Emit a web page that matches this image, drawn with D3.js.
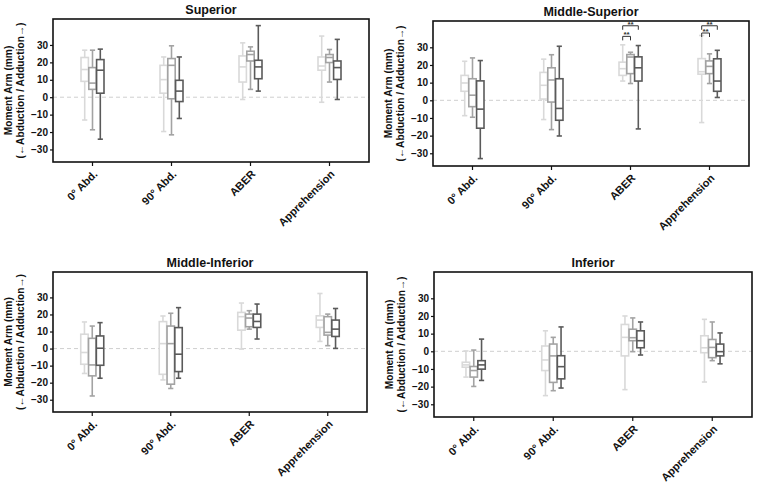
<!DOCTYPE html>
<html>
<head>
<meta charset="utf-8">
<script src="https://cdn.jsdelivr.net/npm/d3@7"></script>
<style>
  body { margin: 0; background: #fff; }
  svg { display: block; font-family: Arial, "Liberation Sans", sans-serif; }
</style>
</head>
<body>
<svg id="chart" width="762" height="485"></svg>
<script>
const categories = ['0° Abd.', '90° Abd.', 'ABER', 'Apprehension'];
const panelTitles = ['Superior', 'Middle-Superior', 'Middle-Inferior', 'Inferior'];
const yTicks = [-30, -20, -10, 0, 10, 20, 30];

// each box: [min, q1, median, q3, max], three series per category
const superior = [
  [[-13.1, 9.1, 15.9, 22.8, 27.0], [-18.7, 4.5, 8.1, 17.0, 27.0], [-24.1, 2.3, 15.5, 21.6, 27.6]],
  [[-19.7, 2.3, 10.1, 18.3, 23.1], [-21.6, -0.9, 18.3, 22.2, 29.5], [-12.2, -2.5, 3.5, 9.7, 23.1]],
  [[-1.3, 8.7, 17.4, 23.7, 31.2], [4.5, 20.8, 24.5, 26.4, 28.9], [3.5, 10.6, 17.4, 21.2, 41.1]],
  [[-2.9, 15.5, 17.9, 23.1, 35.1], [8.7, 19.9, 22.8, 24.5, 27.4], [-1.3, 10.2, 17.0, 20.8, 33.2]],
];
const middleSuperior = [
  [[-8.7, 5.1, 9.8, 14.1, 22.1], [-9.6, -3.6, 2.9, 12.2, 24.0], [-33.0, -15.8, -5.0, 11.0, 22.5]],
  [[-10.9, 0.7, 8.5, 15.8, 23.3], [-16.6, -1.0, 11.5, 18.4, 25.8], [-20.2, -11.3, -4.6, 12.2, 30.6]],
  [[10.9, 14.1, 17.9, 21.6, 31.4], [9.5, 15.1, 24.5, 25.9, 27.2], [-16.2, 10.9, 18.4, 24.6, 31.0]],
  [[-12.6, 14.8, 16.2, 23.6, 36.7], [9.5, 15.1, 19.2, 22.3, 26.3], [1.6, 5.1, 10.9, 23.5, 28.3]],
];
const middleInferior = [
  [[-14.6, -9.2, -2.3, 8.4, 15.6], [-27.8, -16.0, -9.6, 6.0, 13.2], [-17.4, -9.8, 0.2, 7.4, 15.2]],
  [[-18.4, -15.1, 2.9, 15.8, 19.1], [-23.4, -20.9, 2.9, 13.2, 20.7], [-17.4, -13.5, -3.3, 12.3, 24.0]],
  [[-0.3, 10.8, 18.7, 21.2, 26.7], [11.4, 12.8, 17.9, 20.2, 22.2], [5.6, 12.4, 15.9, 20.2, 26.1]],
  [[4.2, 12.4, 16.7, 19.2, 32.3], [1.7, 7.9, 9.5, 18.7, 20.2], [0.1, 7.1, 11.4, 16.7, 23.5]],
];
const inferior = [
  [[-14.6, -9.0, -7.7, -6.2, 0.2], [-19.9, -14.6, -10.9, -8.6, 0.7], [-16.5, -10.1, -7.7, -5.3, 6.9]],
  [[-25.1, -10.9, -4.9, 3.0, 11.6], [-22.3, -17.6, -2.6, 4.1, 7.9], [-20.8, -15.6, -8.7, -2.5, 13.8]],
  [[-21.7, -2.6, 7.9, 15.2, 20.0], [-0.2, 6.0, 7.7, 12.5, 18.9], [-2.1, 2.0, 6.0, 11.6, 16.6]],
  [[-17.4, -0.8, 2.0, 8.8, 18.1], [-5.3, -3.6, 2.2, 6.7, 16.6], [-7.1, -2.6, -0.2, 4.1, 10.4]],
];
// significance brackets (Middle-Superior): category, series from, series to, height
const brackets = [
  ['ABER', 0, 1, 36.2],
  ['ABER', 0, 2, 42.2],
  ['Apprehension', 0, 1, 38.1],
  ['Apprehension', 0, 2, 42.2],
];

const panelData = [superior, middleSuperior, middleInferior, inferior];
const colors = ['#d9d9d9', '#a3a3a3', '#5a5a5a'];

// frame rectangles for each panel
const frames = [
  { x0: 53, x1: 369, y0: 19, y1: 162 },
  { x0: 433, x1: 749, y0: 21, y1: 166 },
  { x0: 53, x1: 367, y0: 272, y1: 412 },
  { x0: 434, x1: 752, y0: 272, y1: 417 },
];

const svg = d3.select('#chart');

panelData.forEach((data, p) => {
  const f = frames[p];
  const g = svg.append('g');

  const x = d3.scaleBand().domain(categories).range([f.x0, f.x1]);
  const y = d3.scaleLinear().domain([-37.2, 44.9]).range([f.y1, f.y0]);
  const off = 7.8;
  const bw = 7.4;

  // zero line
  g.append('line')
    .attr('x1', f.x0).attr('x2', f.x1)
    .attr('y1', y(0)).attr('y2', y(0))
    .attr('stroke', '#cfcfcf')
    .attr('stroke-width', 1)
    .attr('stroke-dasharray', '4,3');

  data.forEach((group, c) => {
    const cx = x(categories[c]) + x.bandwidth() / 2;
    group.forEach((s, i) => {
      const [mn, q1, md, q3, mx] = s;
      const bx = cx + (i - 1) * off;
      const col = colors[i];
      const b = g.append('g')
        .attr('stroke', col)
        .attr('stroke-width', 1.6)
        .attr('fill', 'none');
      b.append('line').attr('x1', bx).attr('x2', bx).attr('y1', y(mx)).attr('y2', y(q3));
      b.append('line').attr('x1', bx).attr('x2', bx).attr('y1', y(q1)).attr('y2', y(mn));
      b.append('line').attr('x1', bx - 2.6).attr('x2', bx + 2.6).attr('y1', y(mx)).attr('y2', y(mx));
      b.append('line').attr('x1', bx - 2.6).attr('x2', bx + 2.6).attr('y1', y(mn)).attr('y2', y(mn));
      b.append('rect')
        .attr('x', bx - bw / 2).attr('width', bw)
        .attr('y', y(q3)).attr('height', y(q1) - y(q3))
        .attr('fill', '#fff');
      b.append('line').attr('x1', bx - bw / 2).attr('x2', bx + bw / 2).attr('y1', y(md)).attr('y2', y(md));
    });
  });

  if (p === 1) {
    brackets.forEach(([cat, a, b2, h]) => {
      const cx = x(cat) + x.bandwidth() / 2;
      const xa = cx + (a - 1) * off;
      const xb = cx + (b2 - 1) * off;
      const yy = y(h);
      g.append('path')
        .attr('d', `M${xa},${yy + 4}V${yy}H${xb}V${yy + 4}`)
        .attr('fill', 'none')
        .attr('stroke', '#333')
        .attr('stroke-width', 1);
      g.append('text')
        .attr('x', (xa + xb) / 2).attr('y', yy + 1)
        .attr('text-anchor', 'middle')
        .attr('font-size', 8)
        .attr('font-weight', 'bold')
        .attr('fill', '#333')
        .text('**');
    });
  }

  // frame
  g.append('rect')
    .attr('x', f.x0).attr('y', f.y0)
    .attr('width', f.x1 - f.x0).attr('height', f.y1 - f.y0)
    .attr('fill', 'none')
    .attr('stroke', '#111')
    .attr('stroke-width', 1.6);

  // y axis
  const ya = g.append('g')
    .attr('transform', `translate(${f.x0},0)`)
    .call(d3.axisLeft(y).tickValues(yTicks).tickSize(3).tickPadding(2).tickFormat((d) => d3.format('')(d).replace('-', '−')));
  ya.select('.domain').remove();
  ya.selectAll('line').attr('stroke', '#111').attr('stroke-width', 1.2);
  ya.selectAll('text')
    .attr('font-size', 10).attr('font-weight', 'bold').attr('fill', '#111')
    .attr('font-family', 'Arial, "Liberation Sans", sans-serif');

  // x axis
  const xa = g.append('g')
    .attr('transform', `translate(0,${f.y1})`)
    .call(d3.axisBottom(x).tickSize(4).tickFormat(''));
  xa.select('.domain').remove();
  xa.selectAll('line').attr('stroke', '#111').attr('stroke-width', 1.2);

  g.selectAll('.xlab')
    .data(categories)
    .join('text')
    .attr('class', 'xlab')
    .attr('transform', (d) => `translate(${x(d) + x.bandwidth() / 2 + 3},${f.y1 + 10}) rotate(-45)`)
    .attr('text-anchor', 'end')
    .attr('dy', '0.35em')
    .attr('font-size', 11)
    .attr('font-weight', 'bold')
    .attr('fill', '#111')
    .text((d) => d);

  // title
  g.append('text')
    .attr('x', (f.x0 + f.x1) / 2).attr('y', f.y0 - 5)
    .attr('text-anchor', 'middle')
    .attr('font-size', 12.5)
    .attr('font-weight', 'bold')
    .attr('fill', '#111')
    .text(panelTitles[p]);

  // y label
  const ly = g.append('text')
    .attr('transform', `translate(${f.x0 - 41},${(f.y0 + f.y1) / 2}) rotate(-90)`)
    .attr('text-anchor', 'middle')
    .attr('font-size', 10.2)
    .attr('font-weight', 'bold')
    .attr('fill', '#111');
  ly.append('tspan').attr('x', 0).attr('dy', '0em').text('Moment Arm (mm)');
  ly.append('tspan').attr('x', 0).attr('dy', '1.15em').text('(←Abduction / Adduction→)');
});
</script>
</body>
</html>
